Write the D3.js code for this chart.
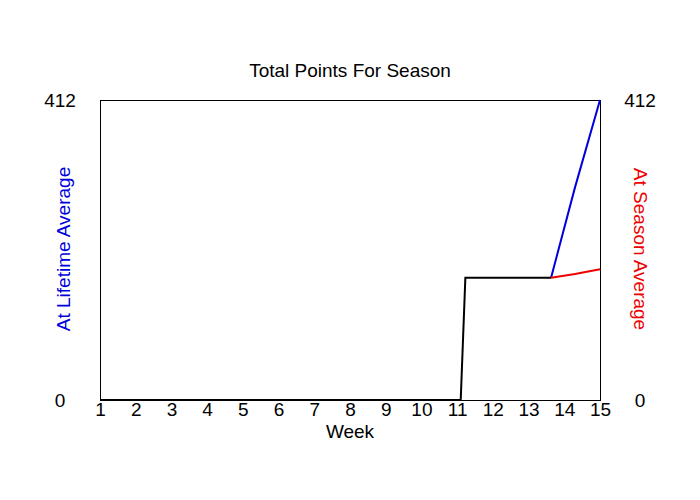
<html>
<script src='https://d3js.org/d3.v7.min.js'></script>
<style>
body {margin: 0; background: white;}
text {font-family: Arial, 'Liberation Sans', sans-serif; font-size: 19px;}
</style>
<body>
<svg width=700 height=500></svg>
<script>
// week ticks
var weeks = [1,2,3,4,5,6,7,8,9,10,11,12,13,14,15];
// actual totals so far (black)
var actualWeek = [1, 11.1, 11.23, 13.63];
var actualPts = [0, 0, 168, 168];
// projection at lifetime average (blue)
var lifeWeek = [13.63, 14.3, 15];
var lifePts = [168, 292, 412];
// projection at season average (red)
var seasonWeek = [13.63, 14.3, 15];
var seasonPts = [168, 173, 179.5];
var yMax = 412;

var margin = {left: 100, right: 100, top: 100, bottom: 100};
var width = 700, height = 500;

var svg = d3.select("svg");

var x = d3.scaleLinear().domain([1, 15]).range([margin.left, width - margin.right]);
var y = d3.scaleLinear().domain([0, yMax]).range([height - margin.bottom, margin.top]);

var line = d3.line()
    .x(function(d) { return x(d[0]); })
    .y(function(d) { return y(d[1]); });

// frame
svg.append("rect")
    .attr("x", x(1) + 0.5).attr("y", y(yMax) + 0.5)
    .attr("width", x(15) - x(1)).attr("height", y(0) - y(yMax))
    .attr("fill", "none").attr("stroke", "black").attr("stroke-width", 1)
    .attr("shape-rendering", "crispEdges");

svg.append("path")
    .datum(d3.zip(lifeWeek, lifePts))
    .attr("d", line).attr("fill", "none").attr("stroke", "#0000dd").attr("stroke-width", 2);

svg.append("path")
    .datum(d3.zip(seasonWeek, seasonPts))
    .attr("d", line).attr("fill", "none").attr("stroke", "#ee0000").attr("stroke-width", 2);

svg.append("path")
    .datum(d3.zip(actualWeek, actualPts))
    .attr("d", line).attr("fill", "none").attr("stroke", "black").attr("stroke-width", 2);

// x axis labels
var xAxis = svg.append("g")
    .attr("transform", "translate(0," + (y(0) + 2) + ")")
    .call(d3.axisBottom(x).tickValues(weeks).tickSize(0).tickPadding(0).tickFormat(d3.format("d")));
xAxis.select(".domain").remove();
xAxis.selectAll("text").attr("font-size", 19).attr("font-family", "Arial, 'Liberation Sans', sans-serif").attr("fill", "black").attr("dy", "0.75em");

// y labels on both sides
[0, yMax].forEach(function(v) {
    svg.append("text").attr("x", 60).attr("y", y(v)).attr("dy", "0.35em")
        .attr("text-anchor", "middle").text(v);
    svg.append("text").attr("x", 640).attr("y", y(v)).attr("dy", "0.35em")
        .attr("text-anchor", "middle").text(v);
});

svg.append("text").attr("x", 350).attr("y", 77).attr("text-anchor", "middle")
    .text("Total Points For Season");

svg.append("text").attr("x", 350).attr("y", 438).attr("text-anchor", "middle")
    .text("Week");

svg.append("text")
    .attr("transform", "translate(70,249) rotate(-90)")
    .attr("text-anchor", "middle").attr("fill", "#0000dd")
    .text("At Lifetime Average");

svg.append("text")
    .attr("transform", "translate(634,249) rotate(90)")
    .attr("text-anchor", "middle").attr("fill", "#ee0000")
    .text("At Season Average");
</script>
</body>
</html>
